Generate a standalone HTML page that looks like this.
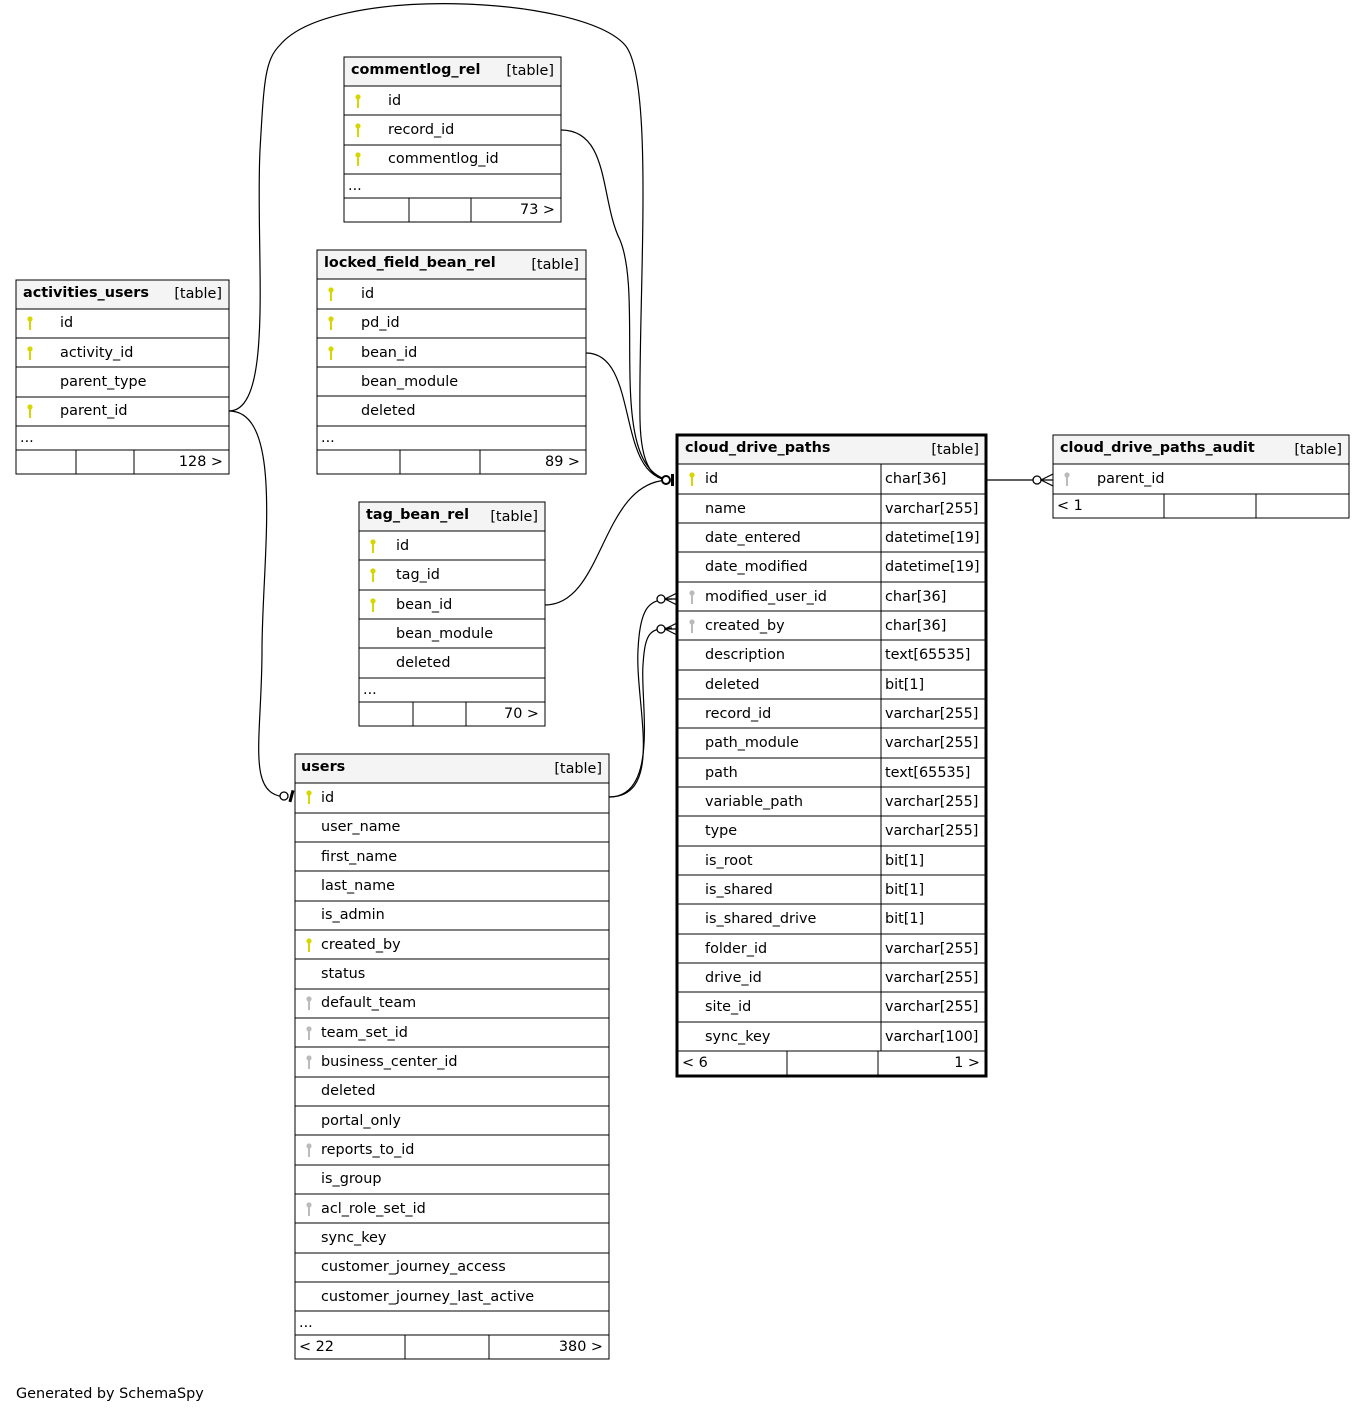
<!DOCTYPE html>
<html><head><meta charset="utf-8"><style>
html,body{margin:0;padding:0;background:#fff;}
svg{display:block;}
text{font-family:"DejaVu Sans","Liberation Sans",sans-serif;font-size:14.4px;fill:#000;}
.b{font-weight:bold;}
.hd{fill:#f4f4f4;stroke:#000;stroke-width:1;}
.bx{fill:none;stroke:#000;stroke-width:1;}
.ln{stroke:#000;stroke-width:1;}
.e{fill:none;stroke:#000;stroke-width:1.2;}
</style></head><body>
<svg width="1365" height="1414" viewBox="0 0 1365 1414" xmlns="http://www.w3.org/2000/svg">
<defs>
<g id="ky"><circle cx="0" cy="-4" r="2.6" fill="#d6d600"/><rect x="-1" y="-2" width="2" height="9" fill="#d6d600"/></g>
<g id="kg"><circle cx="0" cy="-4" r="2.6" fill="#bbb"/><rect x="-1" y="-2" width="2" height="9" fill="#bbb"/></g>
</defs>

<!-- edges -->
<path class="e" d="M229,411 C275,411 255,250 260,150 C264,80 265,60 280,45 C330,-15 580,-5 625,45 C655,80 638,300 640,420 C641,470 655,480 670,480"/>
<path class="e" d="M229,411 C285,411 262,560 262,650 C262,740 245,797 288,797"/>
<path class="e" d="M561,130 C610,130 600,200 620,240 C645,300 605,470 670,480"/>
<path class="e" d="M586,353 C640,353 615,478 670,480"/>
<path class="e" d="M545,605 C605,605 600,480 670,480"/>
<path class="e" d="M609,797 C665,797 635,705 638,650 C640,605 650,599 672,599"/>
<path class="e" d="M609,797 C660,797 640,700 643,665 C645,632 650,628 672,628"/>
<path class="e" d="M986,480 L1053,480"/>
<!-- markers -->
<circle cx="666" cy="480" r="4" fill="#fff" stroke="#000" stroke-width="2"/>
<rect x="671" y="474" width="3" height="12" fill="#000"/>
<circle cx="284" cy="796" r="4" fill="#fff" stroke="#000" stroke-width="1.3"/>
<rect x="290" y="790" width="3" height="12" fill="#000" transform="rotate(15 291 796)"/>
<circle cx="661" cy="599" r="4" fill="#fff" stroke="#000" stroke-width="1.3"/>
<path class="e" d="M665,599 L677,593 M665,599 L677,605 M665,599 L677,599"/>
<circle cx="661" cy="629" r="4" fill="#fff" stroke="#000" stroke-width="1.3"/>
<path class="e" d="M665,629 L677,623 M665,629 L677,635 M665,629 L677,629"/>
<circle cx="1037" cy="480" r="4" fill="#fff" stroke="#000" stroke-width="1.3"/>
<path class="e" d="M1041,480 L1053,474 M1041,480 L1053,486"/>

<!-- commentlog_rel -->
<rect class="hd" x="344" y="57" width="217" height="29"/>
<text class="b" x="351" y="74">commentlog_rel</text><text x="554" y="75" text-anchor="end">[table]</text>
<rect class="bx" x="344" y="86" width="217" height="136"/>
<path class="ln" d="M344,115H561M344,145H561M344,174H561M344,198H561M409,198V222M471,198V222"/>
<use href="#ky" x="358" y="101"/><text x="388" y="105">id</text>
<use href="#ky" x="358" y="130"/><text x="388" y="134">record_id</text>
<use href="#ky" x="358" y="159"/><text x="388" y="163">commentlog_id</text>
<text x="348" y="190">...</text><text x="555" y="214" text-anchor="end">73 &gt;</text>

<!-- locked_field_bean_rel -->
<rect class="hd" x="317" y="250" width="269" height="29"/>
<text class="b" x="324" y="267">locked_field_bean_rel</text><text x="579" y="269" text-anchor="end">[table]</text>
<rect class="bx" x="317" y="279" width="269" height="195"/>
<path class="ln" d="M317,309H586M317,338H586M317,367H586M317,396H586M317,426H586M317,450H586M400,450V474M480,450V474"/>
<use href="#ky" x="331" y="294"/><text x="361" y="298">id</text>
<use href="#ky" x="331" y="323"/><text x="361" y="327">pd_id</text>
<use href="#ky" x="331" y="353"/><text x="361" y="357">bean_id</text>
<text x="361" y="386">bean_module</text>
<text x="361" y="415">deleted</text>
<text x="321" y="442">...</text><text x="580" y="466" text-anchor="end">89 &gt;</text>

<!-- activities_users -->
<rect class="hd" x="16" y="280" width="213" height="29"/>
<text class="b" x="23" y="297">activities_users</text><text x="222" y="298" text-anchor="end">[table]</text>
<rect class="bx" x="16" y="309" width="213" height="165"/>
<path class="ln" d="M16,338H229M16,367H229M16,397H229M16,426H229M16,450H229M76,450V474M134,450V474"/>
<use href="#ky" x="30" y="323"/><text x="60" y="327">id</text>
<use href="#ky" x="30" y="353"/><text x="60" y="357">activity_id</text>
<text x="60" y="386">parent_type</text>
<use href="#ky" x="30" y="411"/><text x="60" y="415">parent_id</text>
<text x="20" y="442">...</text><text x="223" y="466" text-anchor="end">128 &gt;</text>

<!-- tag_bean_rel -->
<rect class="hd" x="359" y="502" width="186" height="29"/>
<text class="b" x="366" y="519">tag_bean_rel</text><text x="538" y="521" text-anchor="end">[table]</text>
<rect class="bx" x="359" y="531" width="186" height="195"/>
<path class="ln" d="M359,560H545M359,590H545M359,619H545M359,648H545M359,678H545M359,702H545M413,702V726M466,702V726"/>
<use href="#ky" x="373" y="546"/><text x="396" y="550">id</text>
<use href="#ky" x="373" y="575"/><text x="396" y="579">tag_id</text>
<use href="#ky" x="373" y="605"/><text x="396" y="609">bean_id</text>
<text x="396" y="638">bean_module</text>
<text x="396" y="667">deleted</text>
<text x="363" y="694">...</text><text x="539" y="718" text-anchor="end">70 &gt;</text>

<!-- users -->
<rect class="hd" x="295" y="754" width="314" height="29"/>
<text class="b" x="301" y="771">users</text><text x="602" y="773" text-anchor="end">[table]</text>
<rect class="bx" x="295" y="783" width="314" height="576"/>
<path class="ln" d="M295,813H609M295,842H609M295,871H609M295,901H609M295,930H609M295,959H609M295,989H609M295,1018H609M295,1047H609M295,1077H609M295,1106H609M295,1135H609M295,1165H609M295,1194H609M295,1223H609M295,1253H609M295,1282H609M295,1311H609M295,1335H609M405,1335V1359M489,1335V1359"/>
<use href="#ky" x="309" y="797"/><text x="321" y="802">id</text>
<text x="321" y="831">user_name</text>
<text x="321" y="861">first_name</text>
<text x="321" y="890">last_name</text>
<text x="321" y="919">is_admin</text>
<use href="#ky" x="309" y="945"/><text x="321" y="949">created_by</text>
<text x="321" y="978">status</text>
<use href="#kg" x="309" y="1003"/><text x="321" y="1007">default_team</text>
<use href="#kg" x="309" y="1033"/><text x="321" y="1037">team_set_id</text>
<use href="#kg" x="309" y="1062"/><text x="321" y="1066">business_center_id</text>
<text x="321" y="1095">deleted</text>
<text x="321" y="1125">portal_only</text>
<use href="#kg" x="309" y="1150"/><text x="321" y="1154">reports_to_id</text>
<text x="321" y="1183">is_group</text>
<use href="#kg" x="309" y="1209"/><text x="321" y="1213">acl_role_set_id</text>
<text x="321" y="1242">sync_key</text>
<text x="321" y="1271">customer_journey_access</text>
<text x="321" y="1301">customer_journey_last_active</text>
<text x="299" y="1327">...</text>
<text x="299" y="1351">&lt; 22</text><text x="603" y="1351" text-anchor="end">380 &gt;</text>

<!-- cloud_drive_paths -->
<rect class="hd" x="677" y="435" width="309" height="29"/>
<text class="b" x="685" y="452">cloud_drive_paths</text><text x="979" y="454" text-anchor="end">[table]</text>
<rect x="677" y="435" width="309" height="641" fill="none" stroke="#000" stroke-width="3"/>
<path class="ln" d="M677,464H986M677,494H986M677,523H986M677,552H986M677,582H986M677,611H986M677,640H986M677,670H986M677,699H986M677,728H986M677,758H986M677,787H986M677,816H986M677,846H986M677,875H986M677,904H986M677,934H986M677,963H986M677,992H986M677,1022H986M677,1051H986M881,464V1051M787,1051V1075M878,1051V1075"/>
<use href="#ky" x="692" y="479"/><text x="705" y="483">id</text><text x="885" y="483">char[36]</text>
<text x="705" y="513">name</text><text x="885" y="513">varchar[255]</text>
<text x="705" y="542">date_entered</text><text x="885" y="542">datetime[19]</text>
<text x="705" y="571">date_modified</text><text x="885" y="571">datetime[19]</text>
<use href="#kg" x="692" y="597"/><text x="705" y="601">modified_user_id</text><text x="885" y="601">char[36]</text>
<use href="#kg" x="692" y="626"/><text x="705" y="630">created_by</text><text x="885" y="630">char[36]</text>
<text x="705" y="659">description</text><text x="885" y="659">text[65535]</text>
<text x="705" y="689">deleted</text><text x="885" y="689">bit[1]</text>
<text x="705" y="718">record_id</text><text x="885" y="718">varchar[255]</text>
<text x="705" y="747">path_module</text><text x="885" y="747">varchar[255]</text>
<text x="705" y="777">path</text><text x="885" y="777">text[65535]</text>
<text x="705" y="806">variable_path</text><text x="885" y="806">varchar[255]</text>
<text x="705" y="835">type</text><text x="885" y="835">varchar[255]</text>
<text x="705" y="865">is_root</text><text x="885" y="865">bit[1]</text>
<text x="705" y="894">is_shared</text><text x="885" y="894">bit[1]</text>
<text x="705" y="923">is_shared_drive</text><text x="885" y="923">bit[1]</text>
<text x="705" y="953">folder_id</text><text x="885" y="953">varchar[255]</text>
<text x="705" y="982">drive_id</text><text x="885" y="982">varchar[255]</text>
<text x="705" y="1011">site_id</text><text x="885" y="1011">varchar[255]</text>
<text x="705" y="1041">sync_key</text><text x="885" y="1041">varchar[100]</text>
<text x="682" y="1067">&lt; 6</text><text x="980" y="1067" text-anchor="end">1 &gt;</text>

<!-- cloud_drive_paths_audit -->
<rect class="hd" x="1053" y="435" width="296" height="29"/>
<text class="b" x="1060" y="452">cloud_drive_paths_audit</text><text x="1342" y="454" text-anchor="end">[table]</text>
<rect class="bx" x="1053" y="464" width="296" height="54"/>
<path class="ln" d="M1053,494H1349M1164,494V518M1256,494V518"/>
<use href="#kg" x="1067" y="479"/><text x="1097" y="483">parent_id</text>
<text x="1057" y="510">&lt; 1</text>

<text x="16" y="1398">Generated by SchemaSpy</text>
</svg>
</body></html>
